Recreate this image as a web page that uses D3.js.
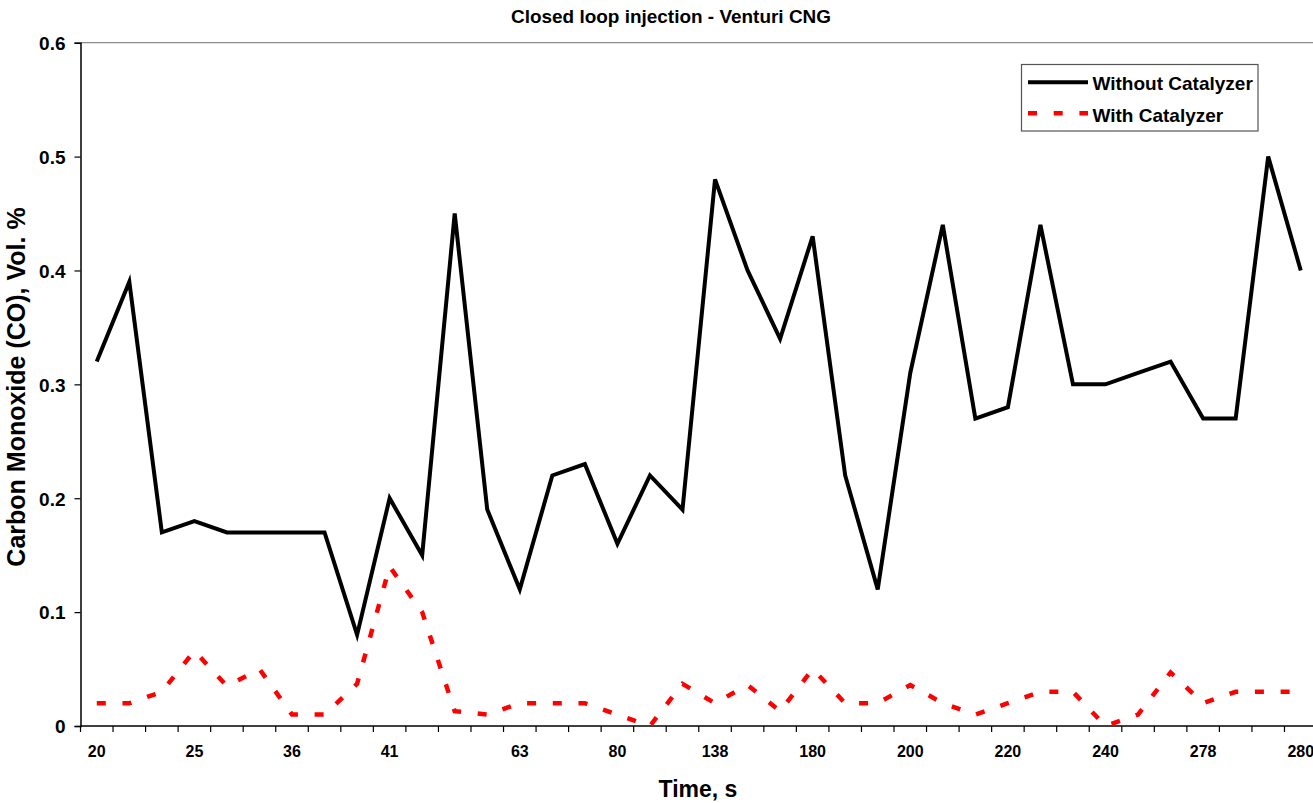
<!DOCTYPE html>
<html>
<head>
<meta charset="utf-8">
<script src="https://cdn.jsdelivr.net/npm/d3@7"></script>
<style>
  html, body { margin: 0; padding: 0; background: #fff; }
  svg { display: block; }
  text { font-family: "Liberation Sans", Arial, sans-serif; font-weight: bold; fill: #000; }
</style>
</head>
<body>
<svg id="chart" width="1313" height="803"></svg>
<script>
// Time axis labels (only some categories carry a label)
const tickLabels = ["20", "", "", "25", "", "", "36", "", "", "41", "", "", "", "63", "", "",
  "80", "", "", "138", "", "", "180", "", "", "200", "", "", "220", "", "", "240", "", "",
  "278", "", "", "280"];

// CO, Vol. % without catalyzer
const withoutCatalyzer = [0.32, 0.39, 0.17, 0.18, 0.17, 0.17, 0.17, 0.17, 0.08, 0.20, 0.15, 0.45,
  0.19, 0.12, 0.22, 0.23, 0.16, 0.22, 0.19, 0.48, 0.40, 0.34, 0.43, 0.22, 0.12, 0.31, 0.44, 0.27,
  0.28, 0.44, 0.30, 0.30, 0.31, 0.32, 0.27, 0.27, 0.50, 0.40];

// CO, Vol. % with catalyzer
const withCatalyzer = [0.02, 0.02, 0.03, 0.066, 0.035, 0.05, 0.01, 0.01, 0.037, 0.14, 0.10, 0.013,
  0.01, 0.02, 0.02, 0.02, 0.01, 0.0, 0.037, 0.02, 0.036, 0.013, 0.05, 0.02, 0.02, 0.036, 0.02, 0.01,
  0.02, 0.03, 0.03, 0.0, 0.01, 0.047, 0.02, 0.03, 0.03, 0.03];

const yTicks = [0, 0.1, 0.2, 0.3, 0.4, 0.5, 0.6];

const svg = d3.select("#chart");
const plot = { left: 80.5, top: 42.7, bottom: 726, step: 32.54 };
const n = tickLabels.length;

const x = d3.scaleBand()
  .domain(d3.range(n))
  .range([plot.left, plot.left + n * plot.step])
  .paddingInner(0).paddingOuter(0);
const xc = i => x(i) + x.bandwidth() / 2;

const y = d3.scaleLinear().domain([0, 0.6]).range([plot.bottom, plot.top]);

// plot area top border
svg.append("line")
  .attr("x1", plot.left).attr("x2", 1313)
  .attr("y1", y(0.6)).attr("y2", y(0.6))
  .attr("stroke", "#8c8c8c").attr("stroke-width", 1.2);

// y axis
const yAxis = d3.axisLeft(y).tickValues(yTicks).tickSize(6).tickPadding(9)
  .tickFormat(d => d === 0 ? "0" : d3.format(".1f")(d));
const gy = svg.append("g").attr("transform", `translate(${plot.left},0)`).call(yAxis);
gy.select(".domain").attr("stroke", "#000").attr("stroke-width", 1.5);
gy.selectAll(".tick line").attr("stroke", "#000").attr("stroke-width", 1.2);
gy.selectAll(".tick text").style("font-size", "19px").attr("dy", "0.36em");

// x axis: ticks sit on category boundaries, labels centred in categories
const gx = svg.append("g");
gx.append("line")
  .attr("x1", plot.left).attr("x2", 1313)
  .attr("y1", plot.bottom).attr("y2", plot.bottom)
  .attr("stroke", "#000").attr("stroke-width", 1.5);
gx.selectAll("line.tick")
  .data(d3.range(n + 1))
  .join("line")
  .attr("class", "tick")
  .attr("x1", i => plot.left + i * x.step())
  .attr("x2", i => plot.left + i * x.step())
  .attr("y1", plot.bottom).attr("y2", plot.bottom + 6)
  .attr("stroke", "#000").attr("stroke-width", 1.2);
gx.selectAll("text.lbl")
  .data(tickLabels.map((t, i) => ({ t, i })).filter(d => d.t !== ""))
  .join("text")
  .attr("class", "lbl")
  .attr("x", d => xc(d.i))
  .attr("y", 757)
  .attr("text-anchor", "middle")
  .style("font-size", "16px")
  .text(d => d.t);

// series lines
const line = d3.line().x((d, i) => xc(i)).y(d => y(d));

svg.append("path")
  .datum(withCatalyzer)
  .attr("d", line)
  .attr("fill", "none")
  .attr("stroke", "#ff0000")
  .attr("stroke-width", 4.5)
  .attr("stroke-dasharray", "9,16.7");

svg.append("path")
  .datum(withoutCatalyzer)
  .attr("d", line)
  .attr("fill", "none")
  .attr("stroke", "#000")
  .attr("stroke-width", 4);

// titles
svg.append("text")
  .attr("x", 671).attr("y", 23)
  .attr("text-anchor", "middle")
  .attr("textLength", 320).attr("lengthAdjust", "spacingAndGlyphs")
  .style("font-size", "19px")
  .text("Closed loop injection - Venturi CNG");

svg.append("text")
  .attr("x", 698).attr("y", 797)
  .attr("text-anchor", "middle")
  .style("font-size", "23px")
  .text("Time, s");

svg.append("text")
  .attr("transform", "translate(25,387) rotate(-90)")
  .attr("text-anchor", "middle")
  .style("font-size", "25px")
  .text("Carbon Monoxide (CO), Vol. %");

// legend
const lg = svg.append("g");
lg.append("rect")
  .attr("x", 1021.5).attr("y", 64.5).attr("width", 236.5).attr("height", 66.5)
  .attr("fill", "#fff").attr("stroke", "#555").attr("stroke-width", 1.2);
const legendItems = [
  { name: "Without Catalyzer", color: "#000", dash: null, width: 4, y: 82.3, ty: 89.5 },
  { name: "With Catalyzer", color: "#ff0000", dash: "9,16.7", width: 4.5, y: 113.3, ty: 121.5 }
];
legendItems.forEach(it => {
  lg.append("line")
    .attr("x1", 1028).attr("x2", 1088)
    .attr("y1", it.y).attr("y2", it.y)
    .attr("stroke", it.color).attr("stroke-width", it.width)
    .attr("stroke-dasharray", it.dash);
  lg.append("text")
    .attr("x", 1092.5).attr("y", it.ty)
    .style("font-size", "19px")
    .text(it.name);
});
</script>
</body>
</html>
